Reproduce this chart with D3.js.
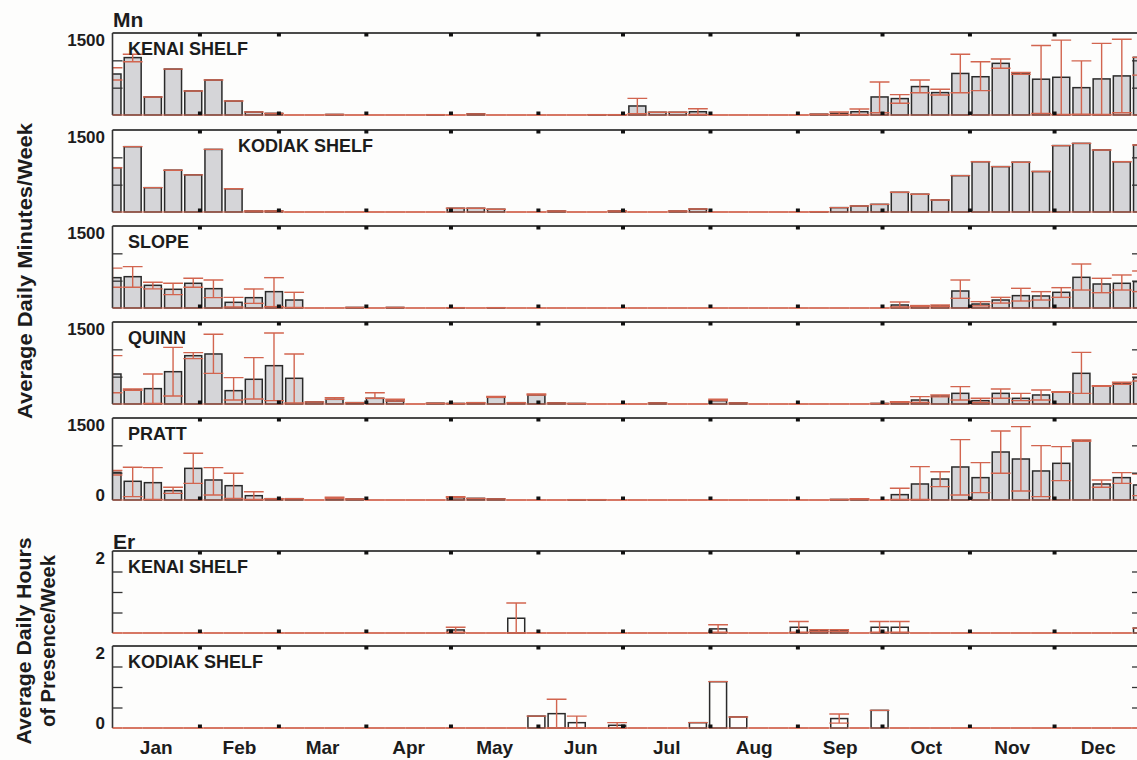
<!DOCTYPE html>
<html><head><meta charset="utf-8">
<script src="https://cdn.jsdelivr.net/npm/d3@7"></script>
<style>
html,body{margin:0;padding:0;background:#fdfdfc;}
text{font-family:"Liberation Sans", Arial, sans-serif;font-weight:bold;fill:#1c1c1c;}
</style></head><body>
<svg id="chart" width="1137" height="760"></svg>
<script>
// ---------------- data ----------------
const months = ["Jan","Feb","Mar","Apr","May","Jun","Jul","Aug","Sep","Oct","Nov","Dec"];
const monthStartDays = [0,31,59,90,120,151,181,212,243,273,304,334,365];
const weeks = d3.range(52);
const mnTicks = [500,1000];
const erTicks = [0.5,1,1.5];

const mnKenai = [750,1050,330,840,440,640,255,55,30,0, 0,10,0,0,0,0,5,0,20,0, 0,0,0,0,5,5,165,50,50,60, 0,0,0,0,0,15,30,60,330,300, 520,410,760,700,945,765,655,690,500,660, 715,1055];
const mnKenaiHi = [865,1110,null,null,null,null,null,null,null,null, null,null,null,null,null,null,null,null,null,null, null,null,null,null,null,null,305,null,null,115, null,null,null,null,null,null,55,110,605,372, 640,470,1110,975,1025,780,1270,1370,990,1310, 1385,null];
const mnKenaiLo = [640,975,null,null,null,null,null,null,null,null, null,null,null,null,null,null,null,null,null,null, null,null,null,null,null,null,25,null,null,10, null,null,null,null,null,null,10,10,40,214, 408,366,408,445,855,745,30,10,15,10, 40,730];

const mnKodiak = [810,1195,445,765,680,1145,425,18,18,0, 0,0,0,0,0,0,0,68,68,50, 0,0,18,0,0,18,0,0,18,55, 0,0,0,0,0,5,80,110,140,360, 325,220,665,920,830,910,740,1215,1255,1135, 920,1225];

const mnSlope = [555,573,415,342,452,354,104,189,299,146, 0,0,10,0,10,0,0,5,0,5, 0,0,0,0,0,0,0,0,0,0, 0,0,0,0,0,0,0,0,0,55, 37,37,311,73,146,226,220,287,561,439, 452,482];
const mnSlopeHi = [730,756,470,452,543,512,195,348,555,287, null,null,null,null,null,null,null,null,null,null, null,null,null,null,null,null,null,null,null,null, null,null,null,null,null,null,null,null,null,110, 45,55,512,116,195,360,299,372,805,543, 604,677];
const mnSlopeLo = [380,380,350,245,380,190,20,85,25,10, null,null,null,null,null,null,null,null,null,null, null,null,null,null,null,null,null,null,null,null, null,null,null,null,null,null,null,null,null,20, 30,30,177,40,90,128,146,195,329,280, 329,300];

const mnQuinn = [549,256,281,591,884,915,244,452,701,470, 37,86,25,104,55,0,15,10,24,122, 24,165,20,10,0,0,0,20,0,0, 61,20,0,0,0,0,0,0,10,31, 73,146,195,61,195,104,165,220,561,329, 378,482];
const mnQuinnHi = [884,274,549,1036,939,1275,482,848,1300,915, null,116,null,207,86,null,null,null,null,140, null,183,null,null,null,null,null,null,null,null, 86,null,null,null,null,null,null,null,null,40, 134,165,317,104,274,195,256,225,945,335, 397,543];
const mnQuinnLo = [207,250,10,146,830,561,73,92,61,20, null,null,null,null,null,null,null,null,null,null, null,null,null,null,null,null,null,null,null,null, null,null,null,null,null,null,null,null,null,null, 30,130,73,30,104,61,73,215,195,325, 360,420];

const mnPratt = [506,342,317,171,579,366,262,79,24,24, 0,30,18,0,0,0,0,43,30,20, 0,0,0,5,5,0,0,0,0,0, 0,0,0,0,0,0,10,18,0,98, 293,384,604,409,878,750,531,671,1086,293, 409,275];
const mnPrattHi = [540,598,592,232,854,592,488,152,null,null, null,49,null,null,null,null,null,61,null,null, null,null,null,null,null,null,null,null,null,null, null,null,null,null,null,null,null,24,null,214, 610,518,1104,683,1263,1342,994,976,1098,366, 500,476];
const mnPrattLo = [457,61,12,122,305,92,30,10,null,null, null,null,null,null,null,null,null,null,null,null, null,null,null,null,null,null,null,null,null,null, null,null,null,null,null,null,null,null,null,10, 10,244,92,134,488,165,61,354,1075,232, 305,80];

const erKenai = [0,0,0,0,0,0,0,0,0,0, 0,0,0,0,0,0,0,0.074,0,0, 0.36,0,0,0,0,0,0,0,0,0, 0.10,0,0,0,0.14,0.056,0.056,0,0.14,0.14, 0,0,0,0,0,0,0,0,0,0, 0,0.12];
const erKenaiHi = [null,null,null,null,null,null,null,null,null,null, null,null,null,null,null,null,null,0.14,null,null, 0.73,null,null,null,null,null,null,null,null,null, 0.20,null,null,null,0.28,0.08,0.08,null,0.28,0.28, null,null,null,null,null,null,null,null,null,null, null,null];
const erKenaiLo = [null,null,null,null,null,null,null,null,null,null, null,null,null,null,null,null,null,0.02,null,null, 0,null,null,null,null,null,null,null,null,null, 0.02,null,null,null,0.02,0.04,0.04,null,0.02,0.02, null,null,null,null,null,null,null,null,null,null, null,null];

const erKodiak = [0,0,0,0,0,0,0,0,0,0, 0,0,0,0,0,0,0,0,0,0, 0,0.29,0.35,0.13,0,0.066,0,0,0,0.13, 1.13,0.27,0,0,0,0,0.23,0,0.43,0, 0,0,0,0,0,0,0,0,0,0, 0,0];
const erKodiakHi = [null,null,null,null,null,null,null,null,null,null, null,null,null,null,null,null,null,null,null,null, null,null,0.70,0.29,null,0.13,null,null,null,null, null,null,null,null,null,null,0.34,null,null,null, null,null,null,null,null,null,null,null,null,null, null,null];
const erKodiakLo = [null,null,null,null,null,null,null,null,null,null, null,null,null,null,null,null,null,null,null,null, null,null,0,0,null,0,null,null,null,null, null,null,null,null,null,null,0.12,null,null,null, null,null,null,null,null,null,null,null,null,null, null,null];

// ---------------- layout ----------------
const svg = d3.select("#chart");
svg.append("rect").attr("width",1137).attr("height",760).attr("fill","#fdfdfc");
const left = 112.5, right = 1142, ph = 82;
const x = d3.scaleLinear().domain([0,51]).range([left,right]);
const xDay = d3.scaleLinear().domain([0,365]).range([left,right]);
const pitch = x(1)-x(0);
const bw = pitch*0.84, cw = pitch*0.98;
const RED = "#d2654f";

const panels = [
  {label:"KENAI SHELF", lx:128, vals:mnKenai, hi:mnKenaiHi, lo:mnKenaiLo, top:33, max:1500, ticks:mnTicks, er:false, topLab:"1500"},
  {label:"KODIAK SHELF", lx:238, vals:mnKodiak, hi:null, lo:null, top:130, max:1500, ticks:mnTicks, er:false, topLab:"1500"},
  {label:"SLOPE", lx:128, vals:mnSlope, hi:mnSlopeHi, lo:mnSlopeLo, top:226, max:1500, ticks:mnTicks, er:false, topLab:"1500"},
  {label:"QUINN", lx:128, vals:mnQuinn, hi:mnQuinnHi, lo:mnQuinnLo, top:322, max:1500, ticks:mnTicks, er:false, topLab:"1500"},
  {label:"PRATT", lx:128, vals:mnPratt, hi:mnPrattHi, lo:mnPrattLo, top:418, max:1500, ticks:mnTicks, er:false, topLab:"1500", botLab:"0"},
  {label:"KENAI SHELF", lx:128, vals:erKenai, hi:erKenaiHi, lo:erKenaiLo, top:551, max:2, ticks:erTicks, er:true, topLab:"2"},
  {label:"KODIAK SHELF", lx:128, vals:erKodiak, hi:erKodiakHi, lo:erKodiakLo, top:646, max:2, ticks:erTicks, er:true, topLab:"2", botLab:"0"}
];

panels.forEach((p,pi)=>{
  const y = d3.scaleLinear().domain([0,p.max]).range([p.top+ph, p.top]);
  const g = svg.append("g");
  const cid = "clip"+pi;
  svg.append("clipPath").attr("id",cid).append("rect")
    .attr("x",left).attr("y",p.top-6).attr("width",right-left).attr("height",ph+8);
  const inner = g.append("g").attr("clip-path",`url(#${cid})`);

  // bars
  inner.selectAll("rect.bar").data(weeks.filter(i=>p.vals[i]>0)).join("rect")
    .attr("x",i=>x(i)-bw/2).attr("y",i=>y(p.vals[i]))
    .attr("width",bw).attr("height",i=>y(0)-y(p.vals[i]))
    .attr("fill",p.er?"#fdfdfc":"#d5d5d8").attr("stroke","#2a2a2a").attr("stroke-width",1.5);

  // error bars
  const hiOf = i => (p.hi && p.hi[i]!=null) ? p.hi[i] : p.vals[i];
  const loOf = i => (p.lo && p.lo[i]!=null) ? p.lo[i] : p.vals[i];
  const eg = inner.append("g").attr("stroke",RED).attr("stroke-width",1.4).attr("fill","none");
  eg.selectAll("line.v").data(weeks.filter(i=>hiOf(i)!==loOf(i))).join("line")
    .attr("x1",i=>x(i)).attr("x2",i=>x(i)).attr("y1",i=>y(hiOf(i))).attr("y2",i=>y(loOf(i)));
  eg.selectAll("line.hc").data(weeks).join("line")
    .attr("x1",i=>x(i)-cw/2).attr("x2",i=>x(i)+cw/2).attr("y1",i=>y(hiOf(i))).attr("y2",i=>y(hiOf(i)));
  eg.selectAll("line.lc").data(weeks.filter(i=>hiOf(i)!==loOf(i))).join("line")
    .attr("x1",i=>x(i)-cw/2).attr("x2",i=>x(i)+cw/2).attr("y1",i=>y(loOf(i))).attr("y2",i=>y(loOf(i)));

  // frame
  g.append("line").attr("x1",left).attr("x2",right).attr("y1",p.top).attr("y2",p.top)
    .attr("stroke","#4a4a4a").attr("stroke-width",2);
  g.append("line").attr("x1",left).attr("x2",left).attr("y1",p.top).attr("y2",p.top+ph)
    .attr("stroke","#333").attr("stroke-width",1.6);
  g.append("line").attr("x1",right).attr("x2",right).attr("y1",p.top).attr("y2",p.top+ph)
    .attr("stroke","#333").attr("stroke-width",1.6);
  g.append("line").attr("x1",left).attr("x2",right).attr("y1",p.top+ph).attr("y2",p.top+ph)
    .attr("stroke",RED).attr("stroke-width",1.2);

  // inner y ticks (left and right)
  const la = g.append("g").attr("transform",`translate(${left},0)`)
    .call(d3.axisRight(y).tickValues(p.ticks).tickSize(10).tickFormat(""));
  const ra = g.append("g").attr("transform",`translate(${right},0)`)
    .call(d3.axisLeft(y).tickValues(p.ticks).tickSize(10).tickFormat(""));
  [la,ra].forEach(a=>{a.select(".domain").remove(); a.selectAll("line").attr("stroke","#333").attr("stroke-width",1.3);});

  // month boundary ticks, top and bottom
  const mb = monthStartDays.slice(1,12);
  g.selectAll("line.mt").data(mb).join("line")
    .attr("x1",d=>xDay(d)).attr("x2",d=>xDay(d)).attr("y1",p.top).attr("y2",p.top+3.5)
    .attr("stroke","#111").attr("stroke-width",4);
  g.selectAll("line.mbt").data(mb).join("line")
    .attr("x1",d=>xDay(d)).attr("x2",d=>xDay(d)).attr("y1",p.top+ph-3.5).attr("y2",p.top+ph)
    .attr("stroke","#111").attr("stroke-width",4);

  // labels
  g.append("text").attr("x",p.lx).attr("y",p.top+22).attr("font-size",18).text(p.label);
  g.append("text").attr("x",105).attr("y",y(p.max)+13).attr("text-anchor","end").attr("font-size",17).text(p.topLab);
  if(p.botLab) g.append("text").attr("x",105).attr("y",y(0)+1).attr("text-anchor","end").attr("font-size",17).text(p.botLab);
});

// group titles
svg.append("text").attr("x",113).attr("y",27).attr("font-size",21).text("Mn");
svg.append("text").attr("x",113).attr("y",549).attr("font-size",21).text("Er");

// y titles
svg.append("text").attr("transform","translate(32,271) rotate(-90)").attr("text-anchor","middle")
  .attr("font-size",21).attr("textLength",296).attr("lengthAdjust","spacingAndGlyphs").text("Average Daily Minutes/Week");
svg.append("text").attr("transform","translate(31,641) rotate(-90)").attr("text-anchor","middle")
  .attr("font-size",21).attr("textLength",207).attr("lengthAdjust","spacingAndGlyphs").text("Average Daily Hours");
svg.append("text").attr("transform","translate(55,641) rotate(-90)").attr("text-anchor","middle")
  .attr("font-size",21).attr("textLength",172).attr("lengthAdjust","spacingAndGlyphs").text("of Presence/Week");

// month labels
svg.selectAll("text.mon").data(months).join("text").attr("class","mon")
  .attr("x",(d,i)=>xDay((monthStartDays[i]+monthStartDays[i+1])/2))
  .attr("y",754).attr("text-anchor","middle").attr("font-size",19).text(d=>d);
</script>
</body></html>
